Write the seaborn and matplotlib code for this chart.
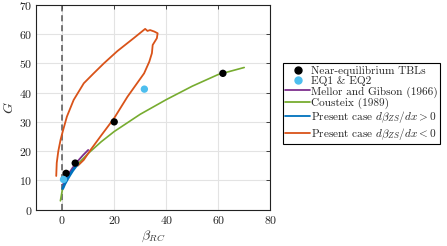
import matplotlib
matplotlib.use("Agg")
import matplotlib.pyplot as plt
import seaborn as sns
import pandas as pd
from matplotlib.lines import Line2D

# ---- data ----
eq_beta = [1.5, 5.0, 20.0, 61.8]
eq_G = [12.4, 15.9, 30.0, 46.6]

eq12_beta = [0.5, 31.6]
eq12_G = [10.3, 41.2]

mellor_beta = [0.3, 2.0, 4.0, 6.0, 8.0, 10.0]
mellor_G = [8.5, 11.6, 14.3, 16.6, 18.6, 20.4]

cousteix_beta = [-0.7, 0.0, 1.0, 2.0, 4.0, 6.0, 10.0, 15.0, 20.0, 30.0, 40.0, 50.0, 60.0, 70.0]
cousteix_G = [3.0, 6.5, 9.0, 10.9, 13.6, 15.6, 19.2, 23.2, 26.7, 32.6, 37.6, 42.2, 46.2, 48.6]

inc_beta = [0.2, 1.0, 2.0, 3.0, 4.0, 5.0, 6.0]
inc_G = [7.2, 8.8, 10.4, 11.9, 13.3, 14.5, 15.6]

dec_beta = [-2.3, -2.1, -1.5, -0.6, 0.2, 1.8, 4.4, 8.3, 12.1, 16.0, 21.2, 27.6, 31.9, 32.8, 33.8,
            35.4, 36.7, 36.4, 34.8, 34.5, 33.5, 31.5, 28.3, 25.1, 20.0, 14.7, 10.9, 8.3, 6.0]
dec_G = [11.5, 16.0, 20.0, 24.0, 26.7, 31.8, 37.5, 43.2, 46.6, 50.0, 54.2, 58.7, 61.8, 61.1, 61.4,
         60.9, 60.3, 58.6, 56.3, 53.5, 50.6, 46.6, 42.6, 38.6, 31.3, 25.0, 20.4, 17.0, 15.0]

labels = ["Near-equilibrium TBLs", "EQ1 & EQ2", "Mellor and Gibson (1966)",
          "Cousteix (1989)", r"Present case $d\beta_{ZS}/dx > 0$", r"Present case $d\beta_{ZS}/dx < 0$"]

# ---- style ----
sns.set_style("whitegrid")
plt.rcParams["font.family"] = ["serif"]
plt.rcParams["font.serif"] = ["cmr10", "DejaVu Serif"]
plt.rcParams["mathtext.fontset"] = "cm"
plt.rcParams["axes.formatter.use_mathtext"] = True

c_orange = "#D95319"
c_blue = "#0072BD"
c_purple = "#7E2F8E"
c_green = "#77AC30"
c_cyan = "#4DBEEE"

fig = plt.figure(figsize=(4.47, 2.46), dpi=100)
ax = fig.add_axes([0.081, 0.148, 0.5235, 0.832])

ax.axvline(0, color="#555555", ls=(0, (4, 2.5)), lw=1.1, zorder=1)

common = dict(ax=ax, sort=False, estimator=None, errorbar=None)
sns.lineplot(x=cousteix_beta, y=cousteix_G, color=c_green, lw=1.2, zorder=2, **common)
sns.lineplot(x=dec_beta, y=dec_G, color=c_orange, lw=1.3, zorder=3, **common)
sns.lineplot(x=mellor_beta, y=mellor_G, color=c_purple, lw=1.3, zorder=3, **common)
sns.lineplot(x=inc_beta, y=inc_G, color=c_blue, lw=2.0, zorder=4, **common)
sns.scatterplot(x=eq_beta, y=eq_G, ax=ax, color="black", s=28, edgecolor="none", zorder=5)
sns.scatterplot(x=eq12_beta, y=eq12_G, ax=ax, color=c_cyan, s=28, edgecolor="none", zorder=5)

ax.set_xlim(-10, 80)
ax.set_ylim(0, 70)
ax.set_xticks([0, 20, 40, 60, 80])
ax.set_yticks([0, 10, 20, 30, 40, 50, 60, 70])
ax.grid(True, color="#e3e3e3", lw=0.8)
for s in ax.spines.values():
    s.set_color("#222222")
    s.set_linewidth(0.8)
    s.set_visible(True)
ax.tick_params(direction="in", top=True, right=True, length=3, width=0.6,
               labelsize=8.5, colors="#222222", pad=3)
ax.set_xlabel(r"$\beta_{RC}$", fontsize=10, color="#333333", labelpad=2)
ax.set_ylabel(r"$G$", fontsize=10, color="#333333", labelpad=2)

handles = [
    Line2D([], [], ls="none", marker="o", color="black", markersize=5),
    Line2D([], [], ls="none", marker="o", color=c_cyan, markersize=5),
    Line2D([], [], color=c_purple, lw=1.3),
    Line2D([], [], color=c_green, lw=1.3),
    Line2D([], [], color=c_blue, lw=1.3),
    Line2D([], [], color=c_orange, lw=1.3),
]
leg = fig.legend(handles, labels, loc="upper left", bbox_to_anchor=(0.633, 0.742),
                 fontsize=8.1, frameon=True, fancybox=False, framealpha=1,
                 edgecolor="black", handlelength=2.2, handletextpad=0.1,
                 borderpad=0.2, labelspacing=0.02, borderaxespad=0)
leg.get_frame().set_linewidth(0.8)

fig.savefig("out.png", dpi=100)
